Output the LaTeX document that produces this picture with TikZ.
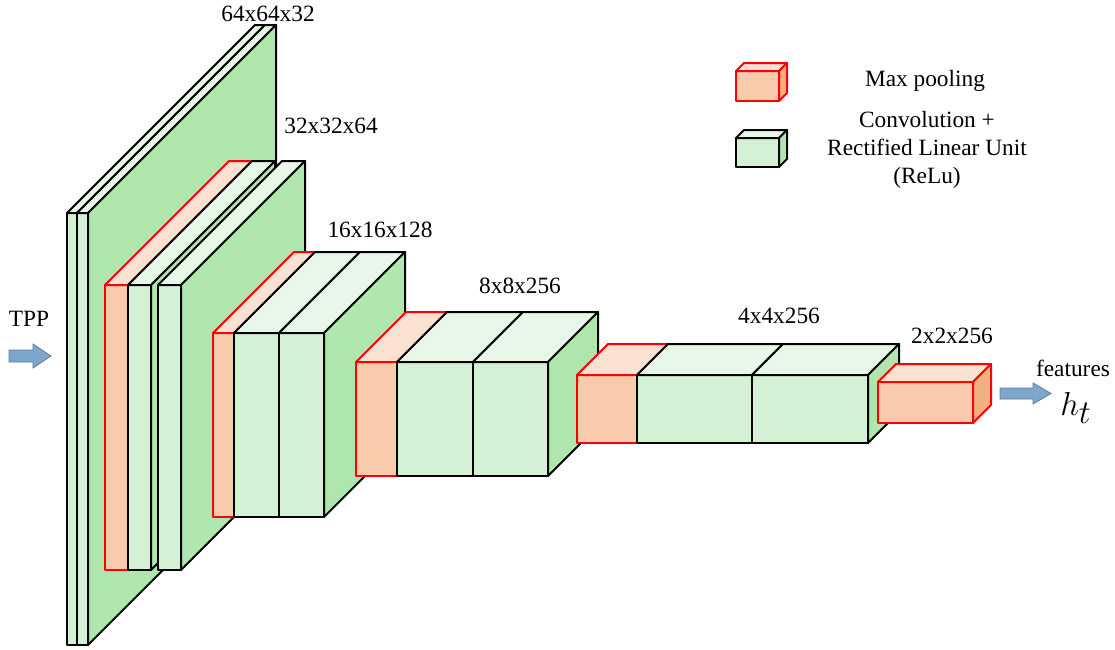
\documentclass[tikz,border=0pt]{standalone}
\usepackage{fontspec}
\setmainfont{Liberation Serif}
\definecolor{gF}{RGB}{213,241,213}
\definecolor{gT}{RGB}{232,248,232}
\definecolor{gS}{RGB}{174,230,174}
\definecolor{rF}{RGB}{248,203,173}
\definecolor{rT}{RGB}{251,225,210}
\definecolor{rS}{RGB}{242,176,130}
\definecolor{arrF}{RGB}{124,166,202}
\definecolor{arrD}{RGB}{90,125,160}
\tikzset{
  gfront/.style={fill=gF, draw=black, line width=1.5pt, line join=round},
  gtop/.style={fill=gT, draw=black, line width=1.5pt, line join=round},
  gside/.style={fill=gS, draw=black, line width=1.5pt, line join=round},
  rfront/.style={fill=rF, draw=red, line width=1.5pt, line join=round},
  rtop/.style={fill=rT, draw=red, line width=1.5pt, line join=round},
  rside/.style={fill=rS, draw=red, line width=1.5pt, line join=round},
  lbl/.style={font=\fontsize{17.5}{21}\selectfont, inner sep=0pt, anchor=base},
  blockarrow/.style={fill=arrF, draw=arrD, line width=0.6pt, line join=miter},
}
% #1 x0, #2 y0, #3 x1, #4 y1, #5 depth, #6 g or r
\newcommand{\myslab}[6]{%
  \filldraw[#6front] (#1,#2) rectangle (#3,#4);
  \filldraw[#6top] (#1,#2) -- (#1+#5,#2-#5) -- (#3+#5,#2-#5) -- (#3,#2) -- cycle;
  \filldraw[#6side] (#3,#2) -- (#3+#5,#2-#5) -- (#3+#5,#4-#5) -- (#3,#4) -- cycle;
}
\begin{document}
\begin{tikzpicture}[x=0.75pt,y=-0.75pt]
\useasboundingbox (0,0) rectangle (1115,650);
% block 1 : 64x64x32
\myslab{67}{213}{77}{645}{188}{g}
\myslab{77}{213}{88}{645}{188}{g}
% block 2 : 32x32x64
\myslab{105}{285}{128}{570}{124}{r}
\myslab{128}{285}{151}{570}{124}{g}
\myslab{158}{285}{181}{570}{124}{g}
% block 3 : 16x16x128
\myslab{213}{333}{234}{517}{81}{r}
\myslab{234}{333}{279}{517}{81}{g}
\myslab{279}{333}{324}{517}{81}{g}
% block 4 : 8x8x256
\myslab{356}{362}{397}{476}{50}{r}
\myslab{397}{362}{473}{476}{50}{g}
\myslab{473}{362}{548}{476}{50}{g}
% block 5 : 4x4x256
\myslab{577}{375}{637}{443}{31}{r}
\myslab{637}{375}{752}{443}{31}{g}
\myslab{752}{375}{868}{443}{31}{g}
% block 6 : 2x2x256
\myslab{878}{382}{973}{423}{18}{r}
% legend boxes
\myslab{736}{71}{779}{101}{8}{r}
\myslab{736}{138}{779}{167}{8}{g}
% labels
\node[lbl] (l1) at (268,21) {64x64x32};
\node[lbl] (l2) at (331,133) {32x32x64};
\node[lbl] (l3) at (380,237) {16x16x128};
\node[lbl] (l4) at (520,293) {8x8x256};
\node[lbl] (l5) at (779,323) {4x4x256};
\node[lbl] (l6) at (952,343) {2x2x256};
\node[lbl] (tpp) at (29,326) {TPP};
\node[lbl] (feat) at (1073,376) {features};
\node[inner sep=0pt, anchor=base west, font=\fontsize{33}{36}\selectfont] (ht) at (1060,415) {$h_t$};
\node[lbl] (lg1) at (925,86) {Max pooling};
\node[lbl, align=center, anchor=north] (lg2) at (927,111) {Convolution +\\Rectified Linear Unit\\(ReLu)};
% block arrows
\filldraw[blockarrow] (9,350) -- (33,350) -- (33,344) -- (51,356) -- (33,368) -- (33,362) -- (9,362) -- cycle;
\filldraw[blockarrow] (1000,388) -- (1033,388) -- (1033,383) -- (1051,393.5) -- (1033,404) -- (1033,399) -- (1000,399) -- cycle;
\end{tikzpicture}
\end{document}
